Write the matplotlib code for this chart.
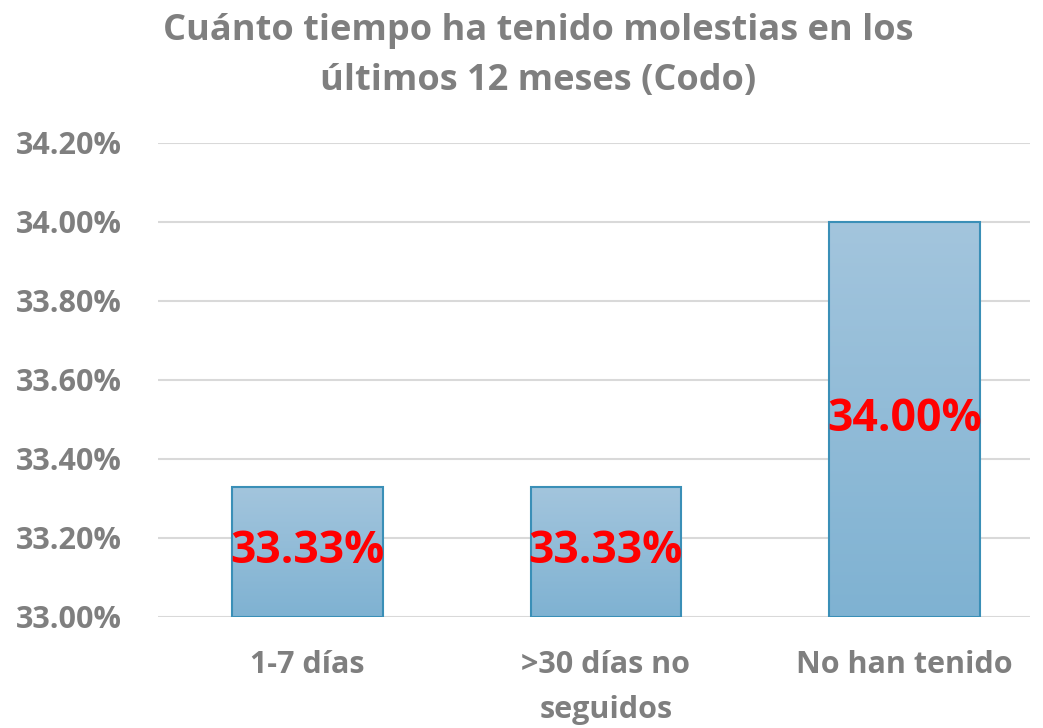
import matplotlib
matplotlib.use("Agg")
import matplotlib.pyplot as plt
import numpy as np
from matplotlib.ticker import FuncFormatter

categorias = ["1-7 días", ">30 días no\nseguidos", "No han tenido"]
valores = [33.33, 33.33, 34.00]
etiquetas = ["33.33%", "33.33%", "34.00%"]
ticks_y = [33.0, 33.2, 33.4, 33.6, 33.8, 34.0, 34.2]

plt.rcParams['font.family'] = ['Open Sans', 'DejaVu Sans']
gris = "#7F7F7F"

fig = plt.figure(figsize=(10.43, 7.28), dpi=100)
ax = fig.add_axes([0.1515, 0.1525, 0.836, 0.6511])

x = np.arange(len(categorias))
bars = ax.bar(x, [v - 33.0 for v in valores], bottom=33.0, width=0.505,
              color="none", edgecolor="#3A8FB7", linewidth=1.5, zorder=3)

# degradado vertical dentro de cada barra
grad = np.linspace(0, 1, 256).reshape(-1, 1)
cmap = matplotlib.colors.LinearSegmentedColormap.from_list("g", ["#7FB2D2", "#A3C5DD"])
for b in bars:
    x0, y0 = b.get_x(), b.get_y()
    w, h = b.get_width(), b.get_height()
    im = ax.imshow(grad, cmap=cmap, aspect="auto", origin="lower",
                   extent=[x0, x0 + w, y0, y0 + h], zorder=2)
    im.set_clip_path(b)

for i, (v, t) in enumerate(zip(valores, etiquetas)):
    ax.text(i, (33.0 + v) / 2, t, ha="center", va="center", color="#FF0000",
            fontsize=32, fontweight="bold", zorder=4)

ax.set_xlim(-0.5, 2.42)
ax.set_ylim(33.0, 34.2)
ax.set_yticks(ticks_y)
ax.yaxis.set_major_formatter(FuncFormatter(lambda v, p: f"{v:.2f}%"))
ax.set_xticks(x)
ax.set_xticklabels(categorias, fontsize=22, fontweight="bold", color=gris,
                   linespacing=1.65, va="top")
for lab in ax.get_yticklabels():
    lab.set_fontsize(22)
    lab.set_fontweight("bold")
    lab.set_color(gris)
ax.tick_params(axis="both", length=0)
ax.tick_params(axis="x", pad=24)
ax.tick_params(axis="y", pad=26)
ax.grid(True, axis="y", color="#D9D9D9", linewidth=1.5, zorder=0)
ax.set_axisbelow(True)
for s in ax.spines.values():
    s.set_visible(False)

fig.text(0.516, 0.923, "Cuánto tiempo ha tenido molestias en los\núltimos 12 meses (Codo)",
         ha="center", va="center", fontsize=26, fontweight="bold", color=gris,
         linespacing=1.5)

fig.savefig("out.png", dpi=100)
